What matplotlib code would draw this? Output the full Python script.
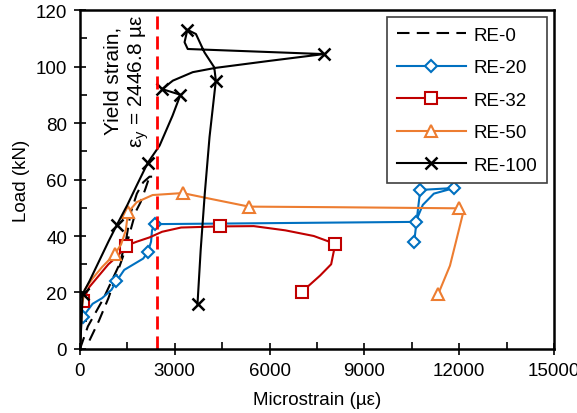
import matplotlib.pyplot as plt
import numpy as np

plt.rcParams['font.family'] = ['Liberation Sans', 'DejaVu Sans']
plt.rcParams['mathtext.fontset'] = 'custom'
plt.rcParams['mathtext.rm'] = 'Liberation Sans'
plt.rcParams['mathtext.it'] = 'Liberation Sans'

# strain (microstrain) / load (kN)
re0_x = [0, 250, 500, 750, 1000, 1250, 1450, 1600, 1800, 2000, 2200, 2480,
         np.nan, 300, 600, 900, 1150, 1400, 1600, 1760, 1920, 2080, 2200]
re0_y = [0, 8, 13, 18, 24, 30, 38, 48, 55, 59, 61, 61,
         np.nan, 3, 10, 18, 26, 34, 42, 48.5, 52, 57, 61]

re20_x = [0, 85, 400, 700, 1000, 1155, 1400, 1700, 2000, 2150, 2250, 2280, 2360,
          10650, 10770, 11850, 11200, 10850, 10700, 10650, 10580]
re20_y = [9, 11.3, 16, 18, 21, 24, 28, 30, 32, 34.3, 38, 42, 44.2,
          45, 56.3, 57, 55, 51, 47, 45, 38]
re20_mk = [1, 5, 9, 12, 13, 14, 15, 20]

re32_x = [85, 300, 600, 900, 1200, 1470, 1800, 2200, 2600, 3200, 4440,
          5500, 6500, 7400, 8080, 7950, 7600, 7030]
re32_y = [17, 22, 26, 30, 33, 36.6, 38, 39.5, 41.5, 43, 43.4,
          43.5, 42, 40, 37.2, 30, 26, 20.3]
re32_mk = [0, 5, 10, 14, 17]

re50_x = [0, 60, 150, 400, 700, 1100, 1300, 1450, 1520, 1800, 2300, 3250,
          4200, 5350, 8000, 11990, 12130, 11900, 11710, 11340]
re50_y = [0, 15, 21, 25, 29, 33.6, 37, 42, 48.4, 52, 54.5, 55.2,
          53, 50.4, 50.2, 49.8, 48.4, 38, 29.5, 19.5]
re50_mk = [5, 8, 11, 13, 15, 19]

re100_x = [0, 50, 85, 300, 600, 900, 1170, 1500, 1800, 2150, 2520, 2930, 3180,
           2600, 2940, 3570, 4280, 6000, 7720, 3410, 3310, 3400, 3670, 3940,
           4250, 4300, 4100, 3950, 3820, 3720]
re100_y = [0, 10, 19.5, 24, 31, 38, 44, 51, 58, 66, 72, 82.6, 90,
           92, 95, 98, 99.5, 102, 104.4, 106.2, 108.6, 113, 111.5, 105,
           99.7, 95, 75, 55, 35, 16]
re100_mk = [2, 6, 9, 12, 13, 18, 21, 25, 29]

yield_strain = 2446.8

fig = plt.figure(figsize=(5.77, 4.14), dpi=100)
ax = fig.add_axes([0.1386, 0.1546, 0.8214, 0.8188])

ax.plot(re0_x, re0_y, color='black', lw=1.5, dashes=(6, 3.5), label='RE-0')
ax.plot(re20_x, re20_y, color='#0070C0', lw=1.5, marker='D', ms=6,
        mfc='white', mew=1.5, markevery=re20_mk, label='RE-20')
ax.plot(re32_x, re32_y, color='#C00000', lw=1.5, marker='s', ms=8,
        mfc='white', mew=1.5, markevery=re32_mk, label='RE-32')
ax.plot(re50_x, re50_y, color='#ED7D31', lw=1.5, marker='^', ms=9,
        mfc='white', mew=1.5, markevery=re50_mk, label='RE-50')
ax.plot(re100_x, re100_y, color='black', lw=1.5, marker='x', ms=8,
        mew=1.8, markevery=re100_mk, label='RE-100')

ax.axvline(yield_strain, color='#FF0000', lw=2, dashes=(4.7, 2.5))
ax.text(1500, 95.2, 'Yield strain,\n$\\mathrm{ε_y}$ = 2446.8 µε',
        rotation=90, ha='center', va='center', multialignment='center',
        fontsize=15)

ax.set_xlim(0, 15000)
ax.set_ylim(0, 120)
ax.set_xticks(np.arange(0, 15001, 3000))
ax.set_xticks(np.arange(0, 15001, 1500), minor=True)
ax.set_yticks(np.arange(0, 121, 20))
ax.set_yticks(np.arange(0, 121, 10), minor=True)
ax.tick_params(which='major', direction='inout', length=8.6, width=1.2,
               labelsize=13.5, color='black', pad=5)
ax.tick_params(which='minor', direction='in', length=5, width=1.2)
for s in ax.spines.values():
    s.set_linewidth(1.8)

ax.set_xlabel('Microstrain (µε)', fontsize=13.5, labelpad=9)
ax.set_ylabel('Load (kN)', fontsize=13.5, labelpad=4)

leg = ax.legend(loc='upper right', bbox_to_anchor=(0.985, 0.979),
                fontsize=13.5, handlelength=3.7, labelspacing=0.82,
                fancybox=False, framealpha=1, borderpad=0.5,
                handletextpad=0.4, borderaxespad=0)
leg.get_frame().set_edgecolor('#404040')
leg.get_frame().set_linewidth(1.2)

fig.savefig('out.png', dpi=100)
